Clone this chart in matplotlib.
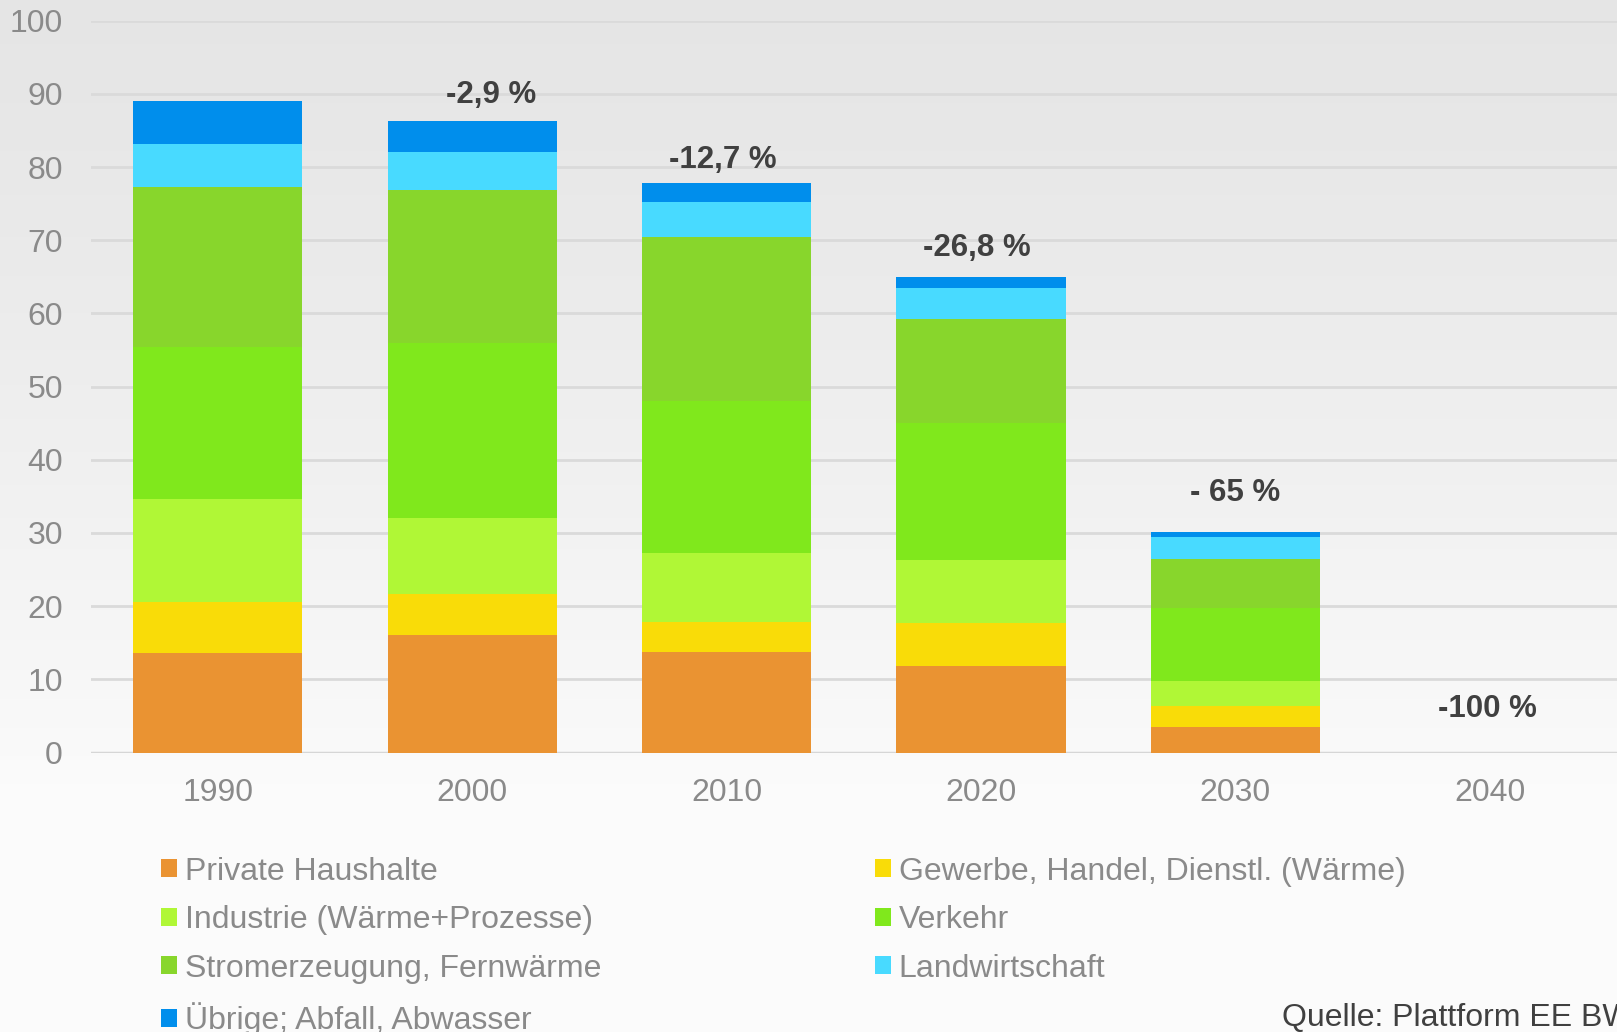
import matplotlib.pyplot as plt
import numpy as np
from matplotlib.patches import Patch

# Daten
jahre = ['1990', '2000', '2010', '2020', '2030', '2040']
private_haushalte = [13.6, 16.0, 13.7, 11.8, 3.5, 0]
gewerbe = [7.0, 5.7, 4.2, 5.9, 2.9, 0]
industrie = [14.0, 10.3, 9.4, 8.6, 3.35, 0]
verkehr = [20.8, 24.0, 20.7, 18.7, 10.05, 0]
stromerzeugung = [21.9, 20.8, 22.5, 14.3, 6.6, 0]
landwirtschaft = [5.9, 5.2, 4.7, 4.2, 3.1, 0]
uebrige = [5.8, 4.3, 2.6, 1.5, 0.7, 0]

aenderung = ['', '-2,9 %', '-12,7 %', '-26,8 %', '- 65 %', '-100 %']

namen = ['Private Haushalte', 'Gewerbe, Handel, Dienstl. (Wärme)',
         'Industrie (Wärme+Prozesse)', 'Verkehr',
         'Stromerzeugung, Fernwärme', 'Landwirtschaft',
         'Übrige; Abfall, Abwasser']
farben = ['#EA9332', '#F9DC08', '#B0F736', '#80E81C',
          '#88D62C', '#48DAFF', '#008EEC']

plt.rcParams['font.family'] = ['Liberation Sans', 'DejaVu Sans']

fig = plt.figure(figsize=(16.17, 10.32), dpi=100)

# Hintergrund mit Verlauf
bg = fig.add_axes([0, 0, 1, 1], zorder=-1)
t = np.linspace(0, 1, 400)
v = np.clip(0.90 + 0.09 * (t / 0.8) ** 1.3, 0, 0.988)
grad = np.dstack([v, v, v])[0][:, None, :]
bg.imshow(grad, extent=[0, 1, 0, 1], aspect='auto')
bg.axis('off')

ax = fig.add_axes([0.0561, 0.2708, 0.9439, 0.7092])
ax.set_facecolor('none')

serien = [private_haushalte, gewerbe, industrie, verkehr,
          stromerzeugung, landwirtschaft, uebrige]
x = np.arange(len(jahre))
unten = np.zeros(len(jahre))
for werte, name, farbe in zip(serien, namen, farben):
    ax.bar(x, werte, 0.665, bottom=unten, color=farbe, label=name,
           edgecolor='none', zorder=3)
    unten += np.array(werte)

# Prozentangaben über den Balken
text_dx = [0, 0.073, -0.016, -0.016, 0, -0.01]
text_dy = [0, 3.5, 3.2, 3.9, 5.2, 5.9]
for i, lab in enumerate(aenderung):
    if lab:
        ax.text(x[i] + text_dx[i], unten[i] + text_dy[i], lab,
                ha='center', va='center', fontsize=22.5,
                fontweight='bold', color='#404040', zorder=4)

ax.set_xlim(-0.5, len(jahre) - 0.5)
ax.set_ylim(0, 100)
ax.set_yticks(range(0, 101, 10))
ax.set_xticks(x)
ax.set_xticklabels(jahre)
ax.tick_params(axis='both', length=0, labelsize=23, labelcolor='#8a8a8a')
ax.tick_params(axis='y', pad=20)
ax.tick_params(axis='x', pad=18)
ax.grid(axis='y', color='#dadada', linewidth=2, zorder=0)
ax.set_axisbelow(True)
for s in ax.spines.values():
    s.set_visible(False)
ax.axhline(0, color='#d6d6d6', linewidth=2.5, zorder=2)

# Legende (spaltenweise gefüllt)
reihenfolge = [0, 2, 4, 6, 1, 3, 5]
handles = [Patch(facecolor=farben[k], edgecolor='none') for k in reihenfolge]
labels = [namen[k] for k in reihenfolge]
fig.legend(handles, labels, ncol=2, loc='upper left',
           bbox_to_anchor=(0.0998, 0.170), frameon=False, fontsize=23,
           labelcolor='#8a8a8a', handlelength=0.5, handleheight=0.5,
           handletextpad=0.25, columnspacing=8.55, labelspacing=0.58,
           borderpad=0, borderaxespad=0)

fig.text(0.7926, 0.0135, 'Quelle: Plattform EE BW', fontsize=23,
         color='#404040', va='center', ha='left')

fig.savefig('out.png', dpi=100)
